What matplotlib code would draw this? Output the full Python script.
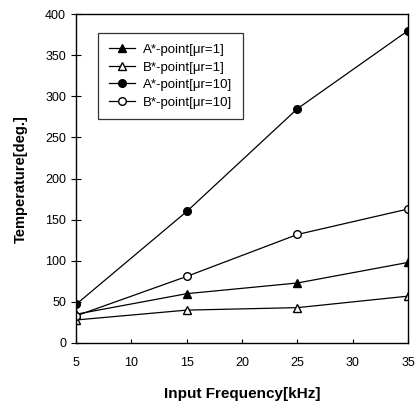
import matplotlib
matplotlib.use("Agg")
import matplotlib.pyplot as plt

plt.rcParams['font.family'] = ['Liberation Sans', 'DejaVu Sans']

freq = [5, 15, 25, 35]
a_mu1 = [35, 60, 73, 98]
b_mu1 = [28, 40, 43, 57]
a_mu10 = [47, 160, 285, 380]
b_mu10 = [33, 81, 132, 163]
labels = ['A*-point[\u03bcr=1]', 'B*-point[\u03bcr=1]', 'A*-point[\u03bcr=10]', 'B*-point[\u03bcr=10]']

fig = plt.figure(figsize=(4.16, 4.04), dpi=100)
ax = fig.add_axes([0.183, 0.151, 0.798, 0.814])

ax.plot(freq, a_mu1, '-', color='black', lw=0.9, marker='^', ms=5.5, mfc='black', label=labels[0])
ax.plot(freq, b_mu1, '-', color='black', lw=0.9, marker='^', ms=5.5, mfc='white', label=labels[1])
ax.plot(freq, a_mu10, '-', color='black', lw=0.9, marker='o', ms=5.5, mfc='black', label=labels[2])
ax.plot(freq, b_mu10, '-', color='black', lw=0.9, marker='o', ms=5.5, mfc='white', label=labels[3])

ax.set_xlim(5, 35)
ax.set_ylim(0, 400)
ax.set_xticks([5, 10, 15, 20, 25, 30, 35])
ax.set_yticks(range(0, 401, 50))
ax.tick_params(axis='x', direction='in', length=3, labelsize=9, pad=10)
ax.tick_params(axis='y', direction='inout', length=6.5, labelsize=9, pad=4)
ax.set_xlabel('Input Frequency[kHz]', fontsize=11, fontweight='bold')
ax.set_ylabel('Temperature[deg.]', fontsize=10.5, fontweight='bold')
ax.xaxis.set_label_coords(0.5, -0.135)
ax.yaxis.set_label_coords(-0.145, 0.5)
for s in ax.spines.values():
    s.set_linewidth(1.0)

leg = ax.legend(loc='upper left', bbox_to_anchor=(0.066, 0.942), borderaxespad=0,
                fontsize=9.5, frameon=True, fancybox=False, edgecolor='black',
                handlelength=2.0, handletextpad=0.6, borderpad=0.8, labelspacing=0.4)
leg.get_frame().set_linewidth(0.9)

fig.savefig('out.png', dpi=100)
